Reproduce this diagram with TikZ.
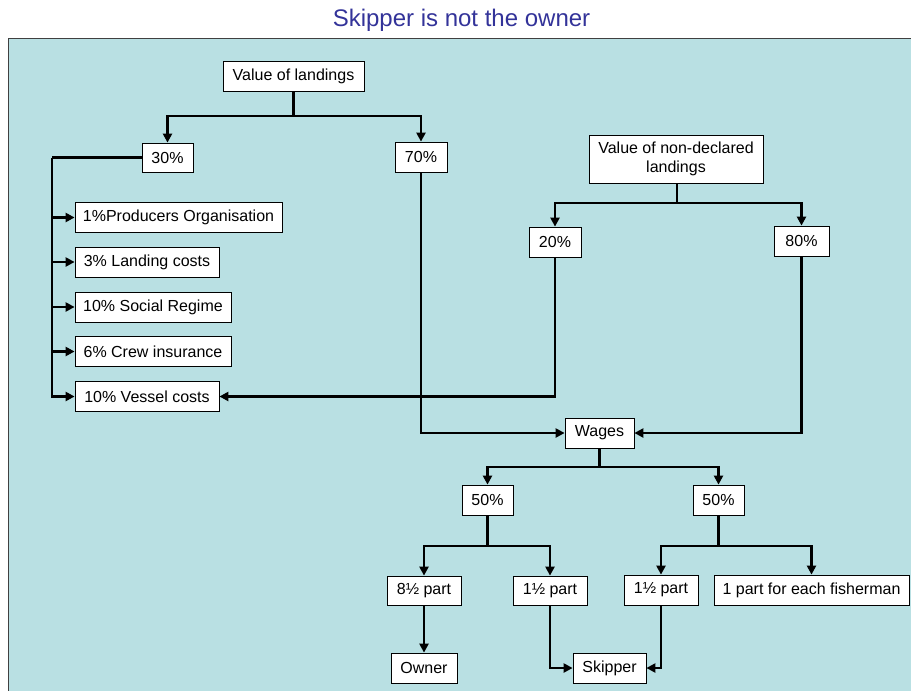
\documentclass[tikz,border=0pt]{standalone}
\usepackage{fontspec}
\setmainfont{Liberation Sans}
\usetikzlibrary{arrows.meta}
\definecolor{panel}{HTML}{B9E0E3}
\definecolor{titleblue}{HTML}{333399}
\begin{document}
\begin{tikzpicture}[x=1pt,y=-1pt,
  box/.style={draw=black, line width=0.8pt, fill=white, inner sep=2pt,
    minimum height=30pt, font=\fontsize{16}{18}\selectfont},
  link/.style={line width=2.5pt},
  arr/.style={line width=2.5pt, -{Triangle[length=9pt,width=9pt]}}]
\useasboundingbox (0,0) rectangle (911,691);
\fill[panel] (8,38) rectangle (920,700);
\draw[black!75, line width=1.5pt] (8.5,700) -- (8.5,38.5) -- (920,38.5);
\node[font=\fontsize{24}{26}\selectfont, text=titleblue] (title) at (461.5,20) {Skipper is not the owner};

\node[box, minimum width=141pt] (vl) at (293.5,76) {Value of landings};
\node[box, minimum width=51pt, minimum height=29pt] (p30) at (167.5,157.5) {30\%};
\node[box, minimum width=52pt] (p70) at (421,157) {70\%};
\node[box, minimum width=174pt, minimum height=48pt, align=center, font=\fontsize{16}{19}\selectfont] (nd) at (676,159) {Value of non-declared\\landings};
\node[box, minimum width=52pt] (p20) at (555,242) {20\%};
\node[box, minimum width=55pt] (p80) at (801.5,241) {80\%};

\node[box, minimum width=207pt] (po) at (178.5,217.5) {1\%Producers Organisation};
\node[box, minimum width=144pt] (lc) at (147,262) {3\% Landing costs};
\node[box, minimum width=156pt] (sr) at (153,307) {10\% Social Regime};
\node[box, minimum width=156pt] (ci) at (153,351.5) {6\% Crew insurance};
\node[box, minimum width=144pt] (vc) at (147,396.5) {10\% Vessel costs};

\node[box, minimum width=69pt] (wages) at (599.5,433) {Wages};
\node[box, minimum width=51pt] (w1) at (487.5,500) {50\%};
\node[box, minimum width=51pt] (w2) at (718.5,500) {50\%};

\node[box, minimum width=74pt, minimum height=29pt] (a8) at (424,590.5) {8½ part};
\node[box, minimum width=74pt, minimum height=29pt] (h1) at (550,590.5) {1½ part};
\node[box, minimum width=74pt] (h2) at (661,590) {1½ part};
\node[box, minimum width=195pt] (fm) at (811.5,590) {1 part for each fisherman};
\node[box, minimum width=66pt] (owner) at (424,668) {Owner};
\node[box, minimum width=73pt] (sk) at (609.5,668) {Skipper};

% value of landings split
\coordinate (j1) at (293.5,116);
\draw[link] (vl.south) -- (j1);
\draw[arr] (j1) -| (p30.north);
\draw[arr] (j1) -| (p70.north);

% 30% bus
\coordinate (busT) at (52,157.5);
\draw[link] (p30.west) -- (busT);
\draw[arr] (busT) |- (vc.west);
\draw[arr] (busT |- po.west) -- (po.west);
\draw[arr] (busT |- lc.west) -- (lc.west);
\draw[arr] (busT |- sr.west) -- (sr.west);
\draw[arr] (busT |- ci.west) -- (ci.west);

% non-declared split
\coordinate (j2) at (677,203);
\draw[link] (nd.south -| j2) -- (j2);
\draw[arr] (j2) -| (p20.north);
\draw[arr] (j2) -| (p80.north);

\draw[arr] (p20.south) |- (vc.east);
\draw[arr] (p70.south) |- (wages.west);
\draw[arr] (p80.south) |- (wages.east);

% wages split
\coordinate (j3) at (599.5,467);
\draw[link] (wages.south) -- (j3);
\draw[arr] (j3) -| (w1.north);
\draw[arr] (j3) -| (w2.north);

\coordinate (j4) at (487.5,546);
\draw[link] (w1.south) -- (j4);
\draw[arr] (j4) -| (a8.north);
\draw[arr] (j4) -| (h1.north);

\coordinate (j5) at (718.5,546);
\draw[link] (w2.south) -- (j5);
\draw[arr] (j5) -| (h2.north);
\draw[arr] (j5) -| (fm.north);

\draw[arr] (a8.south) -- (owner.north);
\draw[arr] (h1.south) |- (sk.west);
\draw[arr] (h2.south) |- (sk.east);
\end{tikzpicture}
\end{document}
